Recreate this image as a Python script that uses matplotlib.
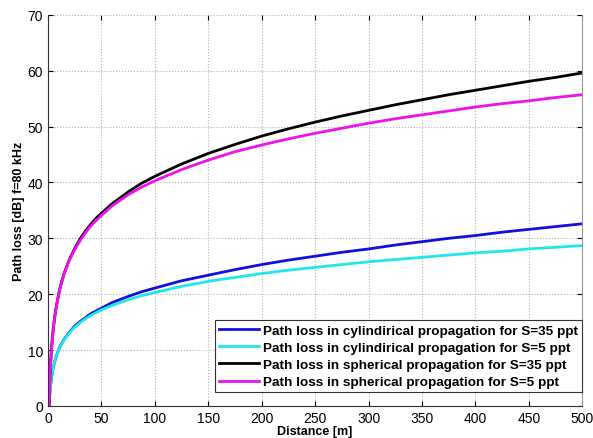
import numpy as np
import matplotlib
matplotlib.use("Agg")
import matplotlib.pyplot as plt

plt.rcParams['font.family'] = ['Liberation Sans', 'DejaVu Sans']

# distance [m] and path loss [dB]
distance = [0, 1, 1.5, 2, 3, 4, 5, 7, 10, 12, 15, 20, 25, 30, 35, 40, 45, 50,
            60, 75, 87, 100, 125, 150, 175, 200, 225, 250, 275, 300, 325,
            350, 375, 400, 425, 450, 475, 500]
cyl_35 = [0, 0.0, 1.8, 3.0, 4.8, 6.0, 7.0, 8.5, 10.1, 10.9, 11.9, 13.2, 14.3,
          15.1, 15.8, 16.5, 17.0, 17.5, 18.5, 19.6, 20.4, 21.1, 22.4, 23.4,
          24.4, 25.3, 26.1, 26.8, 27.5, 28.1, 28.8, 29.4, 30.0, 30.5, 31.1,
          31.6, 32.1, 32.6]
cyl_5 = [0, 0.0, 1.8, 3.0, 4.8, 6.0, 7.0, 8.5, 10.0, 10.8, 11.8, 13.1, 14.1,
         14.9, 15.6, 16.2, 16.7, 17.2, 18.0, 19.0, 19.7, 20.3, 21.4, 22.3,
         23.0, 23.7, 24.3, 24.8, 25.3, 25.8, 26.2, 26.6, 27.0, 27.4, 27.7,
         28.1, 28.4, 28.7]
sph_35 = [0, 0.0, 3.5, 6.0, 9.6, 12.0, 14.0, 17.0, 20.1, 21.7, 23.7, 26.2,
          28.2, 29.9, 31.3, 32.5, 33.6, 34.5, 36.2, 38.3, 39.8, 41.1, 43.3,
          45.2, 46.8, 48.3, 49.6, 50.8, 51.9, 52.9, 53.9, 54.8, 55.7, 56.5,
          57.3, 58.1, 58.8, 59.6]
sph_5 = [0, 0.0, 3.5, 6.0, 9.5, 12.0, 14.0, 16.9, 20.0, 21.6, 23.6, 26.1,
         28.0, 29.6, 31.0, 32.2, 33.2, 34.1, 35.8, 37.8, 39.1, 40.3, 42.3,
         44.0, 45.5, 46.7, 47.8, 48.8, 49.7, 50.6, 51.4, 52.1, 52.8, 53.5,
         54.1, 54.6, 55.2, 55.7]

labels = ['Path loss in cylindirical propagation for S=35 ppt',
          'Path loss in cylindirical propagation for S=5 ppt',
          'Path loss in spherical propagation for S=35 ppt',
          'Path loss in spherical propagation for S=5 ppt']
colors = ['#1010e0', '#20e8e8', '#000000', '#ee10ee']

fig = plt.figure(figsize=(5.93, 4.39), dpi=100)
ax = fig.add_axes([0.081, 0.073, 0.901, 0.891])

for ys, lab, c in zip([cyl_35, cyl_5, sph_35, sph_5], labels, colors):
    ax.plot(distance, ys, color=c, lw=2, label=lab)

ax.set_xlim(0, 500)
ax.set_ylim(0, 70)
ax.set_xticks(np.arange(0, 501, 50))
ax.set_yticks(np.arange(0, 71, 10))
ax.grid(True, linestyle=':', color='#b0b0b0', lw=0.8)
ax.tick_params(direction='in', labelsize=10, top=True, right=True)
ax.spines['top'].set_visible(False)
ax.spines['right'].set_color('#999999')
ax.spines['left'].set_color('#333333')
ax.spines['bottom'].set_color('#333333')

ax.set_xlabel('Distance [m]', fontsize=9, fontweight='bold', labelpad=0)
ax.set_ylabel('Path loss [dB] f=80 kHz', fontsize=9, fontweight='bold', labelpad=2)

leg = ax.legend(loc='lower right', bbox_to_anchor=(1.0, 0.035), borderaxespad=0,
                fancybox=False, edgecolor='#333333', framealpha=1,
                handlelength=3.0, labelspacing=0.35, borderpad=0.3,
                handletextpad=0.3, prop={'weight': 'bold', 'size': 9.7})
leg.get_frame().set_linewidth(0.8)

fig.savefig('out.png', dpi=100)
